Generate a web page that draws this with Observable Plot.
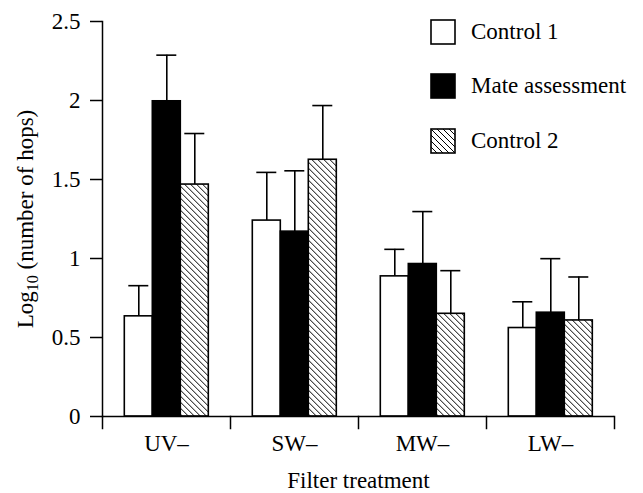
<!DOCTYPE html>
<html>
<head>
<meta charset="utf-8">
<script src="https://cdn.jsdelivr.net/npm/d3@7"></script>
<script src="https://cdn.jsdelivr.net/npm/@observablehq/plot@0.6"></script>
<style>
  body { margin: 0; background: white; }
  #wrap { position: relative; width: 643px; height: 493px; font-family: "Liberation Serif", "Times New Roman", serif; }
  #legend { position: absolute; left: 430px; top: 19px; font-size: 23px; color: black; }
  .row { display: flex; align-items: center; height: 25px; margin-bottom: 29.5px; }
  .row svg { display: block; margin-right: 15px; }
</style>
</head>
<body>
<div id="wrap"><div id="legend"></div></div>
<script>
// ---- data ----
const categories = ["UV–", "SW–", "MW–", "LW–"];
const series = ["Control 1", "Mate assessment", "Control 2"];
const control1 = [0.634, 1.24, 0.887, 0.56];
const control1Err = [0.194, 0.305, 0.171, 0.166];
const mate = [1.995, 1.17, 0.965, 0.657];
const mateErr = [0.292, 0.385, 0.332, 0.342];
const control2 = [1.468, 1.625, 0.65, 0.608];
const control2Err = [0.323, 0.343, 0.273, 0.275];
const yTicks = [0, 0.5, 1, 1.5, 2, 2.5];
const fills = ["white", "black", "url(#hatch)"];

const means = [control1, mate, control2];
const errs = [control1Err, mateErr, control2Err];
const data = [];
categories.forEach((c, i) => series.forEach((s, j) => {
  data.push({category: c, series: s, mean: means[j][i], upper: means[j][i] + errs[j][i]});
}));

const W = 643, H = 493;
const M = {top: 21, right: 28, bottom: 77, left: 101.7};
const innerH = H - M.top - M.bottom;
const tickLen = 12;
const font = '"Liberation Serif", "Times New Roman", serif';

const chart = Plot.plot({
  width: W,
  height: H,
  marginLeft: M.left,
  marginRight: M.right,
  marginTop: M.top,
  marginBottom: M.bottom,
  style: {fontFamily: font, fontSize: "23px", color: "black", background: "white"},
  fx: {domain: categories, padding: 0, axis: null},
  x: {domain: series, paddingInner: 0, paddingOuter: 0.75, axis: null},
  y: {domain: [0, 2.5], axis: null},
  color: {type: "ordinal", domain: series, range: fills},
  marks: [
    Plot.barY(data, {fx: "category", x: "series", y: "mean", fill: "series", stroke: "black", strokeWidth: 1.6}),
    Plot.ruleX(data, {fx: "category", x: "series", y1: "mean", y2: "upper", stroke: "black", strokeWidth: 1.6}),
    Plot.tickY(data, {fx: "category", x: "series", y: "upper", stroke: "black", strokeWidth: 1.6, insetLeft: 4, insetRight: 4}),
    Plot.ruleY([0], {stroke: "black", strokeWidth: 1.5}),
    // y axis line (left facet only)
    Plot.frame({anchor: "left", facetAnchor: "left", stroke: "black", strokeWidth: 1.5}),
    // x-axis ticks at the boundaries between treatments
    Plot.frame({anchor: "left", insetTop: innerH, insetBottom: -tickLen, stroke: "black", strokeWidth: 1.5}),
    Plot.frame({anchor: "right", facetAnchor: "right", insetTop: innerH, insetBottom: -tickLen, stroke: "black", strokeWidth: 1.5}),
    Plot.axisY({ticks: yTicks, tickSize: 12, tickPadding: 10, fontSize: 23, strokeWidth: 1.5,
      tickFormat: d => String(d), label: "Log10 (number of hops)", labelAnchor: "center", labelOffset: 86, labelArrow: "none"}),
    Plot.axisFx({anchor: "bottom", tickSize: 0, tickPadding: 18, fontSize: 23,
      label: "Filter treatment", labelAnchor: "center", labelOffset: 71, labelArrow: "none"})
  ]
});

// hatch pattern definition
const ns = "http://www.w3.org/2000/svg";
const defs = document.createElementNS(ns, "defs");
defs.innerHTML = '<pattern id="hatch" patternUnits="userSpaceOnUse" width="6" height="6">' +
  '<rect width="6" height="6" fill="white"/>' +
  '<path d="M0,0L6,6M-1,5L1,7M5,-1L7,1" stroke="black" stroke-width="1"/></pattern>';
chart.insertBefore(defs, chart.firstChild);

// subscript in the y label
chart.querySelectorAll("text").forEach(t => {
  if (t.textContent.includes("number of hops")) {
    t.textContent = "";
    const a = document.createElementNS(ns, "tspan"); a.textContent = "Log";
    const b = document.createElementNS(ns, "tspan"); b.textContent = "10";
    b.setAttribute("font-size", "16"); b.setAttribute("dy", "5");
    const c = document.createElementNS(ns, "tspan"); c.textContent = " (number of hops)";
    c.setAttribute("dy", "-5");
    t.append(a, b, c);
  }
});

const wrap = document.getElementById("wrap");
wrap.insertBefore(chart, wrap.firstChild);

// legend
const legend = d3.select("#legend");
series.forEach((s, j) => {
  const row = legend.append("div").attr("class", "row");
  const sv = row.append("svg").attr("width", 26).attr("height", 26);
  if (fills[j].startsWith("url")) {
    sv.append("defs").html('<pattern id="hatchL" patternUnits="userSpaceOnUse" width="6" height="6">' +
      '<rect width="6" height="6" fill="white"/>' +
      '<path d="M0,0L6,6M-1,5L1,7M5,-1L7,1" stroke="black" stroke-width="1"/></pattern>');
  }
  sv.append("rect").attr("x", 1).attr("y", 1).attr("width", 24).attr("height", 24)
    .attr("fill", fills[j].startsWith("url") ? "url(#hatchL)" : fills[j])
    .attr("stroke", "black").attr("stroke-width", 1.6);
  row.append("span").text(s);
});
</script>
</body>
</html>
